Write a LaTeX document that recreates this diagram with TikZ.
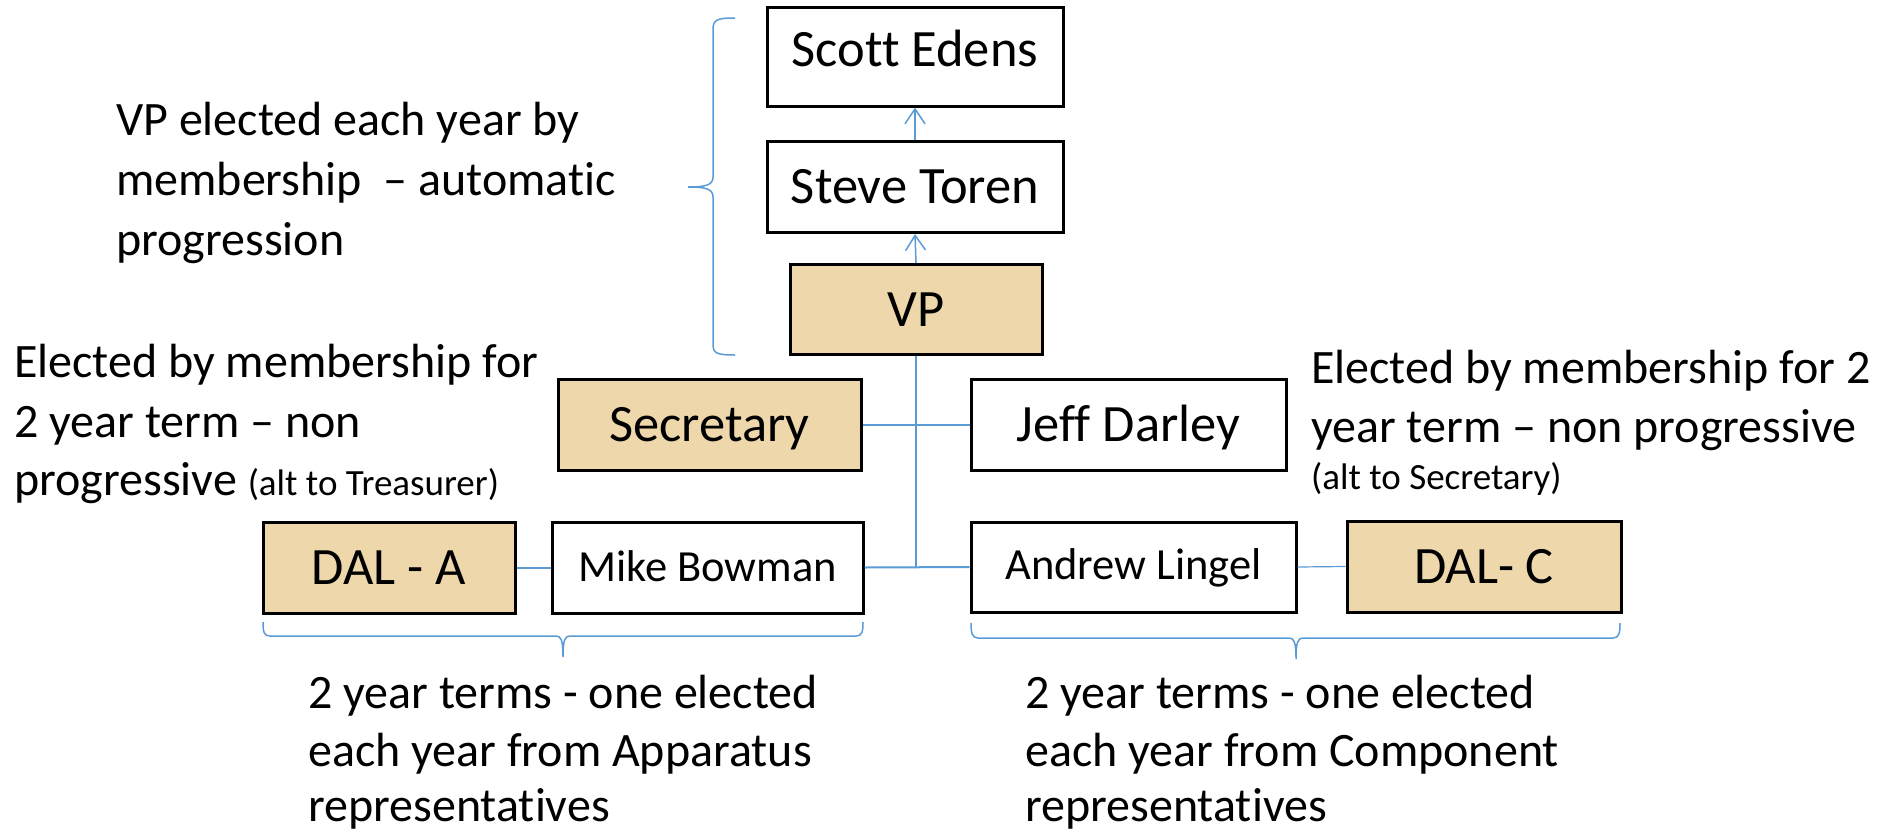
\documentclass[tikz,border=0pt]{standalone}
\usepackage{fontspec}
\setmainfont{Carlito}[Ligatures={NoCommon}]
\usetikzlibrary{arrows.meta}
\definecolor{lnblue}{RGB}{91,155,213}
\definecolor{tan}{RGB}{237,215,171}
\begin{document}
\begin{tikzpicture}[x=1pt,y=-1pt,
  box/.style={draw=black,line width=3pt,rectangle,inner sep=0pt,anchor=center,
    font=\fontsize{52.5}{60}\selectfont,text height=33pt,text depth=0pt},
  tanbox/.style={box,fill=tan},
  wbox/.style={box,fill=white},
  smallname/.style={font=\fontsize{44.5}{52}\selectfont,text height=28pt,text depth=0pt},
  note/.style={anchor=base west,inner sep=0pt,font=\fontsize{48}{58}\selectfont},
  conn/.style={draw=lnblue,line width=2pt},
  thinconn/.style={draw=lnblue,line width=1.2pt},
  arr/.style={draw=lnblue,line width=1.5pt,-{Straight Barb[length=15pt,width=20pt,line width=1.5pt]}},
  brace/.style={draw=lnblue,line width=1.5pt}]
\useasboundingbox (0,0) rectangle (1889,833);

% boxes
\node[wbox,minimum width=296pt,minimum height=99pt,text depth=14pt] (scott) at (915,56.5) {Scott Edens};
\node[wbox,minimum width=296pt,minimum height=91pt] (steve) at (915,187) {Steve Toren};
\node[tanbox,minimum width=252pt,minimum height=90pt] (vp) at (916,309.5) {VP};
\node[tanbox,minimum width=303pt,minimum height=91pt] (sec) at (709.5,424.5) {Secretary};
\node[wbox,minimum width=315pt,minimum height=91pt] (jeff) at (1128.5,424.5) {Jeff Darley};
\node[tanbox,minimum width=252pt,minimum height=91pt] (dala) at (389,567.5) {DAL - A};
\node[wbox,smallname,minimum width=311pt,minimum height=91pt] (mike) at (707.5,567.5) {Mike Bowman};
\node[wbox,smallname,minimum width=325pt,minimum height=90pt,text depth=4pt] (andrew) at (1133.5,567) {Andrew Lingel};
\node[tanbox,minimum width=274pt,minimum height=91pt] (dalc) at (1484,566.5) {DAL- C};

% connectors
\draw[arr] (vp.north) -- (steve.south);
\draw[arr] (steve.north) -- (scott.south);
\coordinate (junction) at (vp.south |- mike.east);
\draw[conn] (vp.south) -- (junction);
\draw[conn] (sec.east) -- (jeff.west);
\draw[conn] (mike.east) -- (andrew.west);
\draw[conn] (dala.east) -- (mike.west);
\draw[thinconn] (andrew.east) -- (dalc.west);

% braces
\coordinate (tb1) at (735,18);
\coordinate (tb2) at (735,355);
\coordinate (tbtip) at (688,187);
\draw[brace] (tb1) .. controls (716,18) and (713,20) .. (713,30) -- (713,177)
  .. controls (713,185) and (706,187) .. (tbtip)
  .. controls (706,187) and (713,189) .. (713,197) -- (713,344)
  .. controls (713,353) and (716,355) .. (tb2);

\coordinate (lb1) at (263,622);
\coordinate (lb2) at (863,622);
\coordinate (lbtip) at (563,657);
\draw[brace] (lb1) .. controls (263,632) and (264,636) .. (270,636) -- (556,636)
  .. controls (561,636) and (563,640) .. (lbtip)
  .. controls (563,640) and (565,636) .. (570,636) -- (856,636)
  .. controls (862,636) and (863,632) .. (lb2);

\coordinate (rb1) at (971,623);
\coordinate (rb2) at (1620,623);
\coordinate (rbtip) at (1296,659);
\draw[brace] (rb1) .. controls (971,633) and (972,638) .. (978,638) -- (1289,638)
  .. controls (1294,638) and (1296,642) .. (rbtip)
  .. controls (1296,642) and (1298,638) .. (1303,638) -- (1613,638)
  .. controls (1619,638) and (1620,633) .. (rb2);

% annotations
\node[note] (t1) at (116,135) {VP elected each year by};
\node[note] (t2) at (116,195) {membership~~– automatic};
\node[note] (t3) at (116,255) {progression};

\node[note] (l1) at (14,377) {Elected by membership for};
\node[note] (l2) at (14,437) {2 year term – non};
\node[note] (l3) at (14,495) {progressive {\fontsize{37}{44}\selectfont (alt to Treasurer)}};

\node[note] (r1) at (1311,383) {Elected by membership for 2};
\node[note] (r2) at (1311,442) {year term – non progressive};
\node[note,font=\fontsize{37}{44}\selectfont] (r3) at (1311,489) {(alt to Secretary)};

\node[note] (bl1) at (308,708) {2 year terms - one elected};
\node[note] (bl2) at (308,766) {each year from Apparatus};
\node[note] (bl3) at (308,821) {representatives};

\node[note] (br1) at (1025,708) {2 year terms - one elected};
\node[note] (br2) at (1025,766) {each year from Component};
\node[note] (br3) at (1025,821) {representatives};
\end{tikzpicture}
\end{document}
